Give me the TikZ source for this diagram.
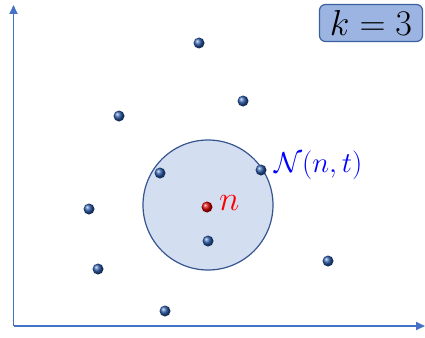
\documentclass[tikz,border=0pt]{standalone}
\usepackage{graphicx}
\usetikzlibrary{arrows.meta}
\definecolor{axisblue}{HTML}{4472C4}
\definecolor{boxfill}{HTML}{9CB4E2}
\definecolor{boxedge}{HTML}{3A5FA0}
\definecolor{circfill}{HTML}{D3DEF1}
\definecolor{circedge}{HTML}{35558F}
\definecolor{ptblue}{HTML}{2A5AA8}
\tikzset{
  pt/.style={circle, inner sep=0pt, minimum size=11pt, ball color=ptblue, draw=none},
  redpt/.style={circle, inner sep=0pt, minimum size=11pt, ball color=red!85!black, draw=none},
  axis/.style={draw=axisblue, line width=1.8pt, -{Triangle[length=9pt,width=8pt]}},
}
\begin{document}
\begin{tikzpicture}[x=1pt,y=-1pt]
\useasboundingbox (0,0) rectangle (425,337);
% axes
\coordinate (o) at (13.5,326);
\coordinate (ytop) at (13.5,5);
\coordinate (xend) at (425,326);
\draw[axis] (o) -- (ytop);
\draw[axis] (o) -- (xend);
% k box
\node (kbox) [draw=boxedge, fill=boxfill, line width=1.2pt, rounded corners=6pt,
  minimum width=103pt, minimum height=37pt, inner sep=0pt] at (371,23) {\Huge\scalebox{1.45}{$k=3$}};
% neighbourhood circle
\node (circ) [circle, draw=circedge, fill=circfill, line width=1.2pt, minimum size=130pt, inner sep=0pt] at (208,205) {};
% points
\node[pt] (p1) at (199,43) {};
\node[pt] (p2) at (243,101) {};
\node[pt] (p3) at (119,116) {};
\node[pt] (p4) at (160,173) {};
\node[pt] (p5) at (261,170) {};
\node[pt] (p6) at (89,209) {};
\node[pt] (p7) at (208,241) {};
\node[pt] (p8) at (98,269) {};
\node[pt] (p9) at (328,261) {};
\node[pt] (p10) at (165,311) {};
\node[redpt] (n) at (207,207) {};
% labels
\node (nlab) [text=red, anchor=west, inner sep=0pt] at (219,203) {\Huge\scalebox{1.4}{$n$}};
\node (Nlab) [text=blue, anchor=west, inner sep=0pt] at (274,165) {\Huge\scalebox{1.16}{$\mathcal{N}(n,t)$}};
\end{tikzpicture}
\end{document}
